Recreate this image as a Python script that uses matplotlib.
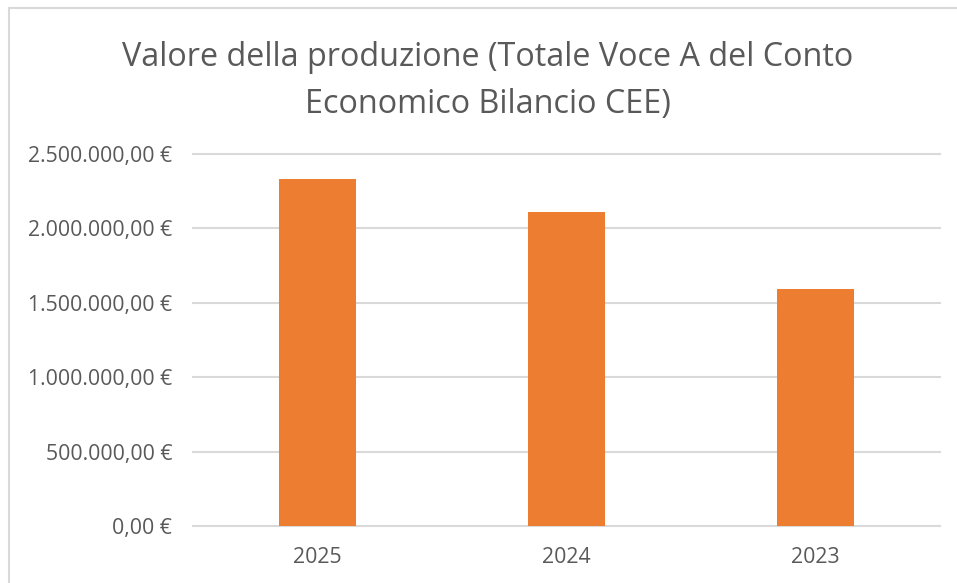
import matplotlib.pyplot as plt
from matplotlib.patches import Rectangle
from matplotlib.ticker import FuncFormatter

years = ['2025', '2024', '2023']
valore_produzione = [2330000, 2112000, 1593000]
y_ticks = [0, 500000, 1000000, 1500000, 2000000, 2500000]

TEXT_GRAY = '#595959'
GRID_GRAY = '#d9d9d9'
ORANGE = '#ED7D31'

plt.rcParams['font.family'] = ['Open Sans', 'DejaVu Sans']

W, H = 957, 583


def euro(v, pos=None):
    s = f'{v:,.2f}'
    s = s.replace(',', 'X').replace('.', ',').replace('X', '.')
    return s + ' €'


fig = plt.figure(figsize=(W / 100, H / 100), dpi=100)

# chart frame, cut off on the right and bottom
fig.patches.append(Rectangle((9 / W, -0.1), 1.2, 1.1 - 8 / H, transform=fig.transFigure,
                             fill=False, edgecolor=GRID_GRAY, linewidth=1.5))

ax = fig.add_axes([193 / W, (H - 526) / H, (940 - 193) / W, (526 - 154) / H])
ax.bar(years, valore_produzione, width=0.313, color=ORANGE, zorder=3)

ax.set_ylim(0, 2500000)
ax.set_xlim(-0.5, 2.5)
ax.set_yticks(y_ticks)
ax.yaxis.set_major_formatter(FuncFormatter(euro))
for y in y_ticks:
    ax.axhline(y, color=GRID_GRAY, linewidth=1.5, zorder=1, clip_on=False)

for side in ['top', 'right', 'left', 'bottom']:
    ax.spines[side].set_visible(False)
ax.tick_params(axis='both', length=0, labelsize=15.3, labelcolor=TEXT_GRAY)
ax.tick_params(axis='y', pad=15)
ax.tick_params(axis='x', pad=15)

fig.text(0.510, 1 - 81 / H, 'Valore della produzione (Totale Voce A del Conto\nEconomico Bilancio CEE)',
         ha='center', va='center', fontsize=23.3, color=TEXT_GRAY, linespacing=1.55)

fig.savefig('out.png', dpi=100, facecolor='white')
